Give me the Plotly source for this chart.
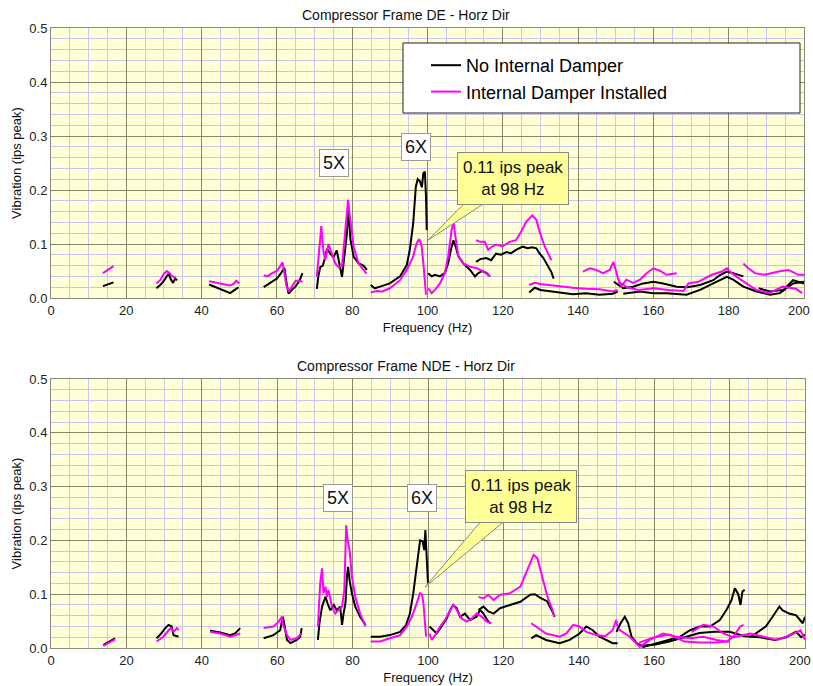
import plotly.graph_objects as go

# ---------------- data ----------------
FREQ_TICKS = list(range(0, 201, 20))
VIB_TICKS = [0.0, 0.1, 0.2, 0.3, 0.4, 0.5]
SERIES_NAMES = ["No Internal Damper", "Internal Damper Installed"]
PANEL_TITLES = ["Compressor Frame DE - Horz Dir", "Compressor Frame NDE - Horz Dir"]
HARMONIC_LABELS = ["5X", "6X"]
CALLOUT_TEXT = "0.11 ips peak<br>at 98 Hz"
X_TITLE = "Frequency (Hz)"
Y_TITLE = "Vibration (ips peak)"

# each series = list of sweep segments, each segment = list of (Hz, ips peak)
DE_NO_DAMPER = [
    [(13.8, 0.022), (15.0, 0.025), (16.6, 0.029)],
    [(28.0, 0.018), (29.0, 0.024), (30.0, 0.032), (30.8, 0.040), (31.2, 0.045), (31.8, 0.035),
     (32.4, 0.028), (33.0, 0.036), (33.5, 0.033)],
    [(42.0, 0.025), (44.0, 0.019), (46.0, 0.014), (47.6, 0.009), (48.8, 0.015), (49.8, 0.020)],
    [(56.5, 0.020), (58.0, 0.027), (60.0, 0.036), (61.0, 0.045), (62.0, 0.056), (62.5, 0.030),
     (63.1, 0.008), (64.0, 0.015), (65.0, 0.022), (66.0, 0.032), (66.8, 0.046)],
    [(70.6, 0.017), (71.0, 0.040), (71.5, 0.057), (72.2, 0.060), (72.8, 0.075), (73.3, 0.091),
     (74.2, 0.082), (75.0, 0.075), (75.9, 0.088), (76.8, 0.057), (77.3, 0.039), (77.8, 0.070),
     (78.6, 0.120), (79.1, 0.165), (79.5, 0.110), (80.4, 0.076), (81.7, 0.064), (83.0, 0.060),
     (83.9, 0.052)],
    [(84.9, 0.024), (86.0, 0.018), (87.4, 0.021), (90.0, 0.027), (92.7, 0.040), (94.5, 0.061),
     (95.3, 0.089), (96.2, 0.138), (96.9, 0.206), (97.4, 0.220), (98.0, 0.216), (98.5, 0.205),
     (98.9, 0.231), (99.3, 0.234), (99.6, 0.188), (99.8, 0.126)],
    [(100.2, 0.046), (101.1, 0.040), (102.0, 0.043), (103.3, 0.040), (104.6, 0.046), (105.5, 0.065),
     (106.3, 0.092), (106.9, 0.107), (107.5, 0.095), (108.2, 0.077), (109.5, 0.064), (110.4, 0.058),
     (111.3, 0.052), (112.6, 0.040), (113.3, 0.045), (114.5, 0.050), (115.7, 0.046), (116.6, 0.040)],
    [(112.9, 0.067), (114.0, 0.072), (115.6, 0.074), (116.9, 0.070), (118.2, 0.082), (119.5, 0.080),
     (120.9, 0.085), (122.2, 0.083), (123.5, 0.089), (125.3, 0.095), (126.6, 0.092), (127.8, 0.094),
     (128.9, 0.092), (129.8, 0.082), (130.7, 0.075), (131.6, 0.064), (132.9, 0.048), (133.5, 0.036)],
    [(127.0, 0.010), (128.5, 0.019), (130.0, 0.015), (132.0, 0.013), (135.0, 0.010), (138.6, 0.007),
     (142.0, 0.009), (145.7, 0.006), (149.2, 0.008), (150.5, 0.012)],
    [(149.5, 0.030), (150.6, 0.024), (152.0, 0.018), (154.6, 0.021), (157.3, 0.027), (160.0, 0.030),
     (162.6, 0.027), (166.2, 0.021), (169.0, 0.020), (172.4, 0.024), (175.9, 0.033), (177.6, 0.042),
     (179.5, 0.049), (181.2, 0.046), (183.9, 0.040)],
    [(152.0, 0.008), (156.4, 0.012), (160.0, 0.009), (163.5, 0.009), (168.8, 0.006), (172.4, 0.015),
     (175.9, 0.027), (179.5, 0.039), (181.2, 0.034), (183.9, 0.021), (187.4, 0.012), (191.0, 0.006),
     (193.6, 0.009), (197.1, 0.027), (200.0, 0.030)],
    [(188.0, 0.018), (191.0, 0.012), (194.5, 0.015), (197.1, 0.033), (200.0, 0.027)],
]

DE_WITH_DAMPER = [
    [(13.8, 0.046), (15.2, 0.052), (16.6, 0.059)],
    [(28.0, 0.027), (29.0, 0.033), (30.0, 0.045), (30.8, 0.050), (31.5, 0.046), (32.2, 0.040),
     (33.0, 0.038)],
    [(42.0, 0.031), (44.0, 0.028), (46.0, 0.025), (47.5, 0.023), (48.5, 0.026), (49.2, 0.032),
     (50.0, 0.027)],
    [(56.5, 0.042), (57.5, 0.040), (58.5, 0.045), (60.0, 0.050), (60.8, 0.058), (61.5, 0.066),
     (62.0, 0.045), (62.6, 0.020), (63.2, 0.013), (64.0, 0.022), (65.0, 0.032), (66.0, 0.032),
     (66.8, 0.030)],
    [(70.6, 0.039), (71.2, 0.080), (71.8, 0.133), (72.3, 0.090), (72.8, 0.070), (73.3, 0.085),
     (73.7, 0.100), (74.2, 0.090), (74.6, 0.082), (75.5, 0.064), (76.4, 0.057), (77.3, 0.060),
     (78.1, 0.120), (78.6, 0.168), (78.9, 0.182), (79.5, 0.144), (80.4, 0.094), (81.7, 0.064),
     (83.0, 0.052), (83.8, 0.045)],
    [(84.9, 0.010), (86.5, 0.013), (88.0, 0.012), (90.0, 0.018), (92.7, 0.033), (94.5, 0.052),
     (96.2, 0.077), (97.1, 0.101), (97.8, 0.109), (98.4, 0.098), (98.9, 0.064), (99.3, 0.021),
     (99.6, 0.006)],
    [(100.2, 0.018), (101.1, 0.009), (102.0, 0.015), (103.3, 0.027), (104.6, 0.046), (105.5, 0.077),
     (106.4, 0.126), (106.9, 0.140), (107.4, 0.114), (108.2, 0.077), (109.5, 0.064), (111.3, 0.058),
     (113.1, 0.055), (114.9, 0.049), (116.6, 0.040)],
    [(112.9, 0.107), (114.0, 0.104), (115.2, 0.104), (116.1, 0.089), (116.9, 0.094), (118.2, 0.099),
     (120.0, 0.096), (121.8, 0.104), (123.5, 0.107), (124.8, 0.122), (126.2, 0.141), (127.8, 0.153),
     (128.9, 0.145), (129.8, 0.122), (131.1, 0.096), (132.9, 0.070)],
    [(127.0, 0.024), (128.5, 0.028), (130.0, 0.026), (132.4, 0.024), (135.0, 0.021), (138.6, 0.019),
     (142.1, 0.017), (145.7, 0.016), (149.2, 0.012), (150.5, 0.015)],
    [(141.3, 0.049), (143.1, 0.055), (144.8, 0.052), (146.6, 0.046), (148.4, 0.052), (149.4, 0.067),
     (150.6, 0.036), (151.5, 0.022), (152.8, 0.034), (154.6, 0.028), (156.4, 0.034), (158.2, 0.046),
     (160.0, 0.055), (161.8, 0.050), (163.5, 0.043), (166.2, 0.046)],
    [(150.6, 0.030), (153.0, 0.020), (156.0, 0.015), (160.0, 0.018), (164.0, 0.015), (168.0, 0.013),
     (169.3, 0.027), (171.9, 0.030), (175.5, 0.043), (178.2, 0.049), (179.5, 0.055), (180.8, 0.046),
     (183.0, 0.035), (187.3, 0.015), (190.8, 0.009), (194.3, 0.021), (197.9, 0.017), (199.5, 0.009)],
    [(183.9, 0.064), (185.2, 0.055), (187.0, 0.046), (189.6, 0.043), (193.2, 0.049), (195.9, 0.052),
     (198.5, 0.043), (200.0, 0.043)],
]

NDE_NO_DAMPER = [
    [(13.9, 0.006), (15.5, 0.012), (17.0, 0.018)],
    [(28.0, 0.018), (29.0, 0.025), (30.3, 0.037), (31.2, 0.043), (32.0, 0.040), (32.5, 0.024),
     (33.8, 0.021)],
    [(42.2, 0.032), (44.9, 0.029), (47.5, 0.024), (48.8, 0.027), (50.2, 0.037)],
    [(56.4, 0.018), (59.0, 0.024), (60.8, 0.033), (61.5, 0.058), (62.0, 0.040), (62.6, 0.015),
     (63.5, 0.009), (65.2, 0.015), (66.1, 0.021), (66.5, 0.037)],
    [(70.8, 0.015), (71.2, 0.046), (71.9, 0.077), (72.8, 0.095), (73.5, 0.080), (74.1, 0.070),
     (75.0, 0.080), (75.8, 0.070), (76.7, 0.077), (77.2, 0.043), (77.6, 0.064), (78.1, 0.083),
     (78.5, 0.133), (78.8, 0.151), (79.2, 0.126), (79.8, 0.102), (80.7, 0.077), (82.0, 0.058),
     (83.4, 0.043)],
    [(84.8, 0.021), (87.3, 0.021), (89.9, 0.024), (92.6, 0.030), (94.2, 0.043), (95.2, 0.064),
     (96.1, 0.102), (97.0, 0.151), (97.5, 0.185), (97.9, 0.200), (98.6, 0.198), (99.0, 0.182),
     (99.3, 0.219), (99.5, 0.182), (99.7, 0.139), (100.0, 0.120)],
    [(100.4, 0.040), (101.4, 0.033), (102.3, 0.027), (103.6, 0.040), (105.0, 0.055), (105.9, 0.071),
     (106.7, 0.080), (107.6, 0.074), (108.5, 0.058), (109.8, 0.064), (111.2, 0.052), (112.9, 0.058),
     (113.8, 0.071), (114.7, 0.064), (116.0, 0.049), (116.7, 0.046)],
    [(113.4, 0.071), (114.7, 0.077), (116.0, 0.068), (117.4, 0.064), (119.1, 0.074), (121.8, 0.080),
     (124.5, 0.086), (127.1, 0.099), (128.4, 0.100), (129.8, 0.093), (131.6, 0.087), (133.0, 0.068),
     (133.6, 0.058)],
    [(127.4, 0.018), (128.7, 0.024), (131.3, 0.015), (134.9, 0.009), (137.6, 0.015), (140.2, 0.027),
     (142.0, 0.040), (143.7, 0.033), (145.5, 0.021), (147.3, 0.015), (149.0, 0.009), (150.3, 0.009)],
    [(150.0, 0.030), (151.0, 0.045), (152.2, 0.058), (153.1, 0.046), (154.0, 0.021), (155.3, 0.009),
     (157.1, 0.002), (160.7, 0.009), (164.2, 0.015), (166.9, 0.021), (169.5, 0.033), (172.1, 0.040),
     (174.8, 0.040), (177.4, 0.052), (179.2, 0.071), (180.5, 0.089), (181.4, 0.111), (182.3, 0.100),
     (182.9, 0.080), (183.4, 0.105), (184.0, 0.108)],
    [(156.0, 0.004), (160.0, 0.006), (164.0, 0.012), (168.0, 0.020), (172.0, 0.028), (176.0, 0.030),
     (180.0, 0.030), (184.0, 0.022), (188.0, 0.020), (192.0, 0.015), (195.0, 0.020), (197.6, 0.030),
     (199.0, 0.020), (200.0, 0.025)],
    [(185.5, 0.020), (187.0, 0.027), (189.6, 0.040), (191.4, 0.058), (193.2, 0.077), (194.1, 0.070),
     (195.8, 0.064), (197.6, 0.061), (199.4, 0.046), (200.0, 0.058)],
]

NDE_WITH_DAMPER = [
    [(13.9, 0.004), (15.5, 0.010), (17.0, 0.016)],
    [(28.0, 0.012), (29.8, 0.021), (31.2, 0.033), (31.8, 0.037), (32.5, 0.030), (33.4, 0.037),
     (33.8, 0.033)],
    [(42.2, 0.030), (44.9, 0.027), (47.5, 0.021), (49.0, 0.024), (50.2, 0.027)],
    [(56.4, 0.037), (59.0, 0.040), (60.4, 0.049), (61.2, 0.058), (61.7, 0.040), (62.6, 0.024),
     (63.5, 0.015), (65.2, 0.018), (66.5, 0.027)],
    [(70.8, 0.040), (71.4, 0.120), (71.9, 0.148), (72.3, 0.102), (72.8, 0.114), (73.2, 0.095),
     (73.6, 0.108), (74.5, 0.077), (75.4, 0.064), (76.3, 0.071), (77.2, 0.077), (77.8, 0.108),
     (78.0, 0.157), (78.3, 0.228), (78.7, 0.200), (79.2, 0.182), (79.8, 0.133), (80.7, 0.095),
     (82.0, 0.064), (83.4, 0.040)],
    [(84.8, 0.012), (87.3, 0.012), (89.9, 0.018), (92.6, 0.024), (94.4, 0.040), (95.7, 0.058),
     (97.0, 0.083), (97.9, 0.102), (98.4, 0.099), (98.8, 0.083), (99.2, 0.046), (99.5, 0.021)],
    [(100.4, 0.027), (101.0, 0.015), (101.9, 0.024), (103.2, 0.040), (104.5, 0.052), (105.9, 0.071),
     (106.7, 0.080), (107.6, 0.071), (108.9, 0.055), (110.3, 0.049), (111.6, 0.055), (112.9, 0.064),
     (114.3, 0.058), (115.6, 0.049), (116.7, 0.046)],
    [(113.4, 0.095), (114.7, 0.092), (116.0, 0.099), (117.4, 0.089), (119.1, 0.099), (121.8, 0.102),
     (124.5, 0.114), (126.3, 0.145), (128.0, 0.173), (129.0, 0.167), (130.3, 0.133), (131.7, 0.095),
     (133.0, 0.071), (133.5, 0.058)],
    [(127.4, 0.046), (128.7, 0.040), (131.3, 0.027), (134.9, 0.021), (136.7, 0.027), (138.5, 0.043),
     (140.2, 0.040), (142.0, 0.030), (144.6, 0.024), (147.0, 0.022), (149.0, 0.033), (149.9, 0.052),
     (150.3, 0.040)],
    [(150.5, 0.035), (153.5, 0.021), (156.2, 0.002), (158.8, 0.015), (162.4, 0.027), (165.9, 0.021),
     (169.5, 0.018), (173.0, 0.021), (176.6, 0.015), (179.2, 0.012), (181.0, 0.021), (182.8, 0.040),
     (183.7, 0.043)],
    [(170.0, 0.030), (171.3, 0.036), (173.0, 0.043), (175.7, 0.040), (178.3, 0.027), (181.0, 0.020),
     (185.5, 0.027), (189.0, 0.021), (192.6, 0.015), (196.1, 0.024), (198.8, 0.033), (200.0, 0.015)],
    [(156.0, 0.010), (160.0, 0.020), (164.0, 0.025), (168.0, 0.012), (172.0, 0.010), (176.0, 0.010),
     (180.0, 0.012)],
]

# annotation anchor points (Hz, ips) per panel: 5X label, 6X label, callout box, callout tip
DE_LABEL_POS = {"5X": (75.2, 0.250), "6X": (96.9, 0.280)}
NDE_LABEL_POS = {"5X": (76.1, 0.279), "6X": (98.4, 0.279)}
DE_CALLOUT = {"box": (122.7, 0.222), "base": [(110.5, 0.180), (116.1, 0.180)], "tip": (100.1, 0.107)}
NDE_CALLOUT = {"box": (124.7, 0.281), "base": [(114.6, 0.240), (121.0, 0.240)], "tip": (99.2, 0.113)}

# ---------------- styling ----------------
W, H = 813, 686
FONT = "Arial, 'Liberation Sans', sans-serif"
BLACK = "#000000"
MAGENTA = "#ff00ff"
PLOT_BG = "#ffffd8"
MAJOR_GRID = "#86866a"
MINOR_GRID = "#c6c6ee"
BORDER = "#8a8a7a"
TICK_FONT = dict(family=FONT, size=13, color="#222")


def flatten(segments):
    xs, ys = [], []
    for seg in segments:
        for f, a in seg:
            xs.append(f)
            ys.append(a)
        xs.append(None)
        ys.append(None)
    return xs, ys


fig = go.Figure()

panels = [
    ("x", "y", DE_NO_DAMPER, DE_WITH_DAMPER, True),
    ("x2", "y2", NDE_NO_DAMPER, NDE_WITH_DAMPER, False),
]
for xa, ya, s_no, s_with, show in panels:
    for name, segs, color in [(SERIES_NAMES[0], s_no, BLACK), (SERIES_NAMES[1], s_with, MAGENTA)]:
        xs, ys = flatten(segs)
        fig.add_trace(go.Scatter(
            x=xs, y=ys, mode="lines", name=name, xaxis=xa, yaxis=ya,
            line=dict(color=color, width=2), showlegend=show, connectgaps=False,
            hoverinfo="skip",
        ))

# the last frequency label sits on the page edge: it is drawn separately, nudged inside
x_tick_text = [str(v) for v in FREQ_TICKS[:-1]] + [""]


def xaxis_style(domain, anchor):
    return dict(
        domain=domain, anchor=anchor, range=[0, 200], tickvals=FREQ_TICKS, ticktext=x_tick_text,
        showgrid=True, gridcolor=MAJOR_GRID, gridwidth=1,
        minor=dict(dtick=5, showgrid=True, gridcolor=MINOR_GRID, gridwidth=1),
        showline=True, linecolor=BORDER, linewidth=1, mirror=True, zeroline=False,
        ticks="", tickfont=TICK_FONT,
        title=dict(text=X_TITLE, font=dict(family=FONT, size=13, color="#111"), standoff=6),
        automargin=False, fixedrange=True,
    )


def yaxis_style(domain, anchor):
    return dict(
        domain=domain, anchor=anchor, range=[0, 0.5], tickvals=VIB_TICKS, tickformat=".1f",
        showgrid=True, gridcolor=MAJOR_GRID, gridwidth=1,
        minor=dict(dtick=0.02, showgrid=True, gridcolor=MINOR_GRID, gridwidth=1),
        showline=True, linecolor=BORDER, linewidth=1, mirror=True, zeroline=False,
        ticks="", tickfont=TICK_FONT,
        title=dict(text=Y_TITLE, font=dict(family=FONT, size=13, color="#111"), standoff=4),
        automargin=False, fixedrange=True,
    )


fig.update_layout(
    width=W, height=H, margin=dict(l=0, r=0, t=0, b=0, pad=0, autoexpand=False),
    paper_bgcolor="white", plot_bgcolor=PLOT_BG,
    font=dict(family=FONT, color="#111"),
    xaxis=xaxis_style([51 / W, 804 / W], "y"),
    yaxis=yaxis_style([1 - 298 / H, 1 - 28 / H], "x"),
    xaxis2=xaxis_style([51 / W, 805 / W], "y2"),
    yaxis2=yaxis_style([1 - 648 / H, 1 - 379 / H], "x2"),
    legend=dict(
        x=426 / W, y=1 - 47 / H, xanchor="left", yanchor="top",
        bgcolor="rgba(0,0,0,0)", borderwidth=0,
        font=dict(family=FONT, size=18, color="#000"), tracegroupgap=0,
    ),
    showlegend=True,
)

# last x tick label ("200") for each panel, kept fully on the page
for xa, ya in [("x", "y"), ("x2", "y2")]:
    fig.add_annotation(text=str(FREQ_TICKS[-1]), xref=xa, yref=ya, x=FREQ_TICKS[-1], y=0,
                       xanchor="right", yanchor="top", xshift=8, yshift=-3, showarrow=False,
                       font=TICK_FONT)

# legend frame (wide box like the reference)
fig.add_shape(type="rect", xref="paper", yref="paper",
              x0=403 / W, x1=800 / W, y0=1 - 113 / H, y1=1 - 43 / H,
              fillcolor="white", line=dict(color="#222", width=1), layer="above")

# panel titles
for title, ypix in [(PANEL_TITLES[0], 15), (PANEL_TITLES[1], 366)]:
    fig.add_annotation(text=title, xref="paper", yref="paper", x=406 / W, y=1 - ypix / H,
                       showarrow=False, font=dict(family=FONT, size=14, color="#111"),
                       xanchor="center", yanchor="middle")

# harmonic labels and callouts
for xa, ya, labels, callout in [("x", "y", DE_LABEL_POS, DE_CALLOUT), ("x2", "y2", NDE_LABEL_POS, NDE_CALLOUT)]:
    for lab in HARMONIC_LABELS:
        fx, fy = labels[lab]
        fig.add_annotation(text=lab, xref=xa, yref=ya, x=fx, y=fy, showarrow=False,
                           font=dict(family=FONT, size=18, color="#111"),
                           bgcolor="white", bordercolor="#999", borderwidth=1, borderpad=3)
    (b1x, b1y), (b2x, b2y) = callout["base"]
    tx, ty = callout["tip"]
    fig.add_shape(type="path", xref=xa, yref=ya,
                  path=f"M {b1x},{b1y} L {tx},{ty} L {b2x},{b2y} Z",
                  fillcolor="#ffff99", line=dict(color="#888", width=1), layer="above")
    bx, by = callout["box"]
    fig.add_annotation(text=CALLOUT_TEXT, xref=xa, yref=ya, x=bx, y=by, showarrow=False,
                       font=dict(family=FONT, size=17, color="#111"),
                       bgcolor="#ffff99", bordercolor="#888", borderwidth=1, borderpad=5)

fig.write_html("out.html")
